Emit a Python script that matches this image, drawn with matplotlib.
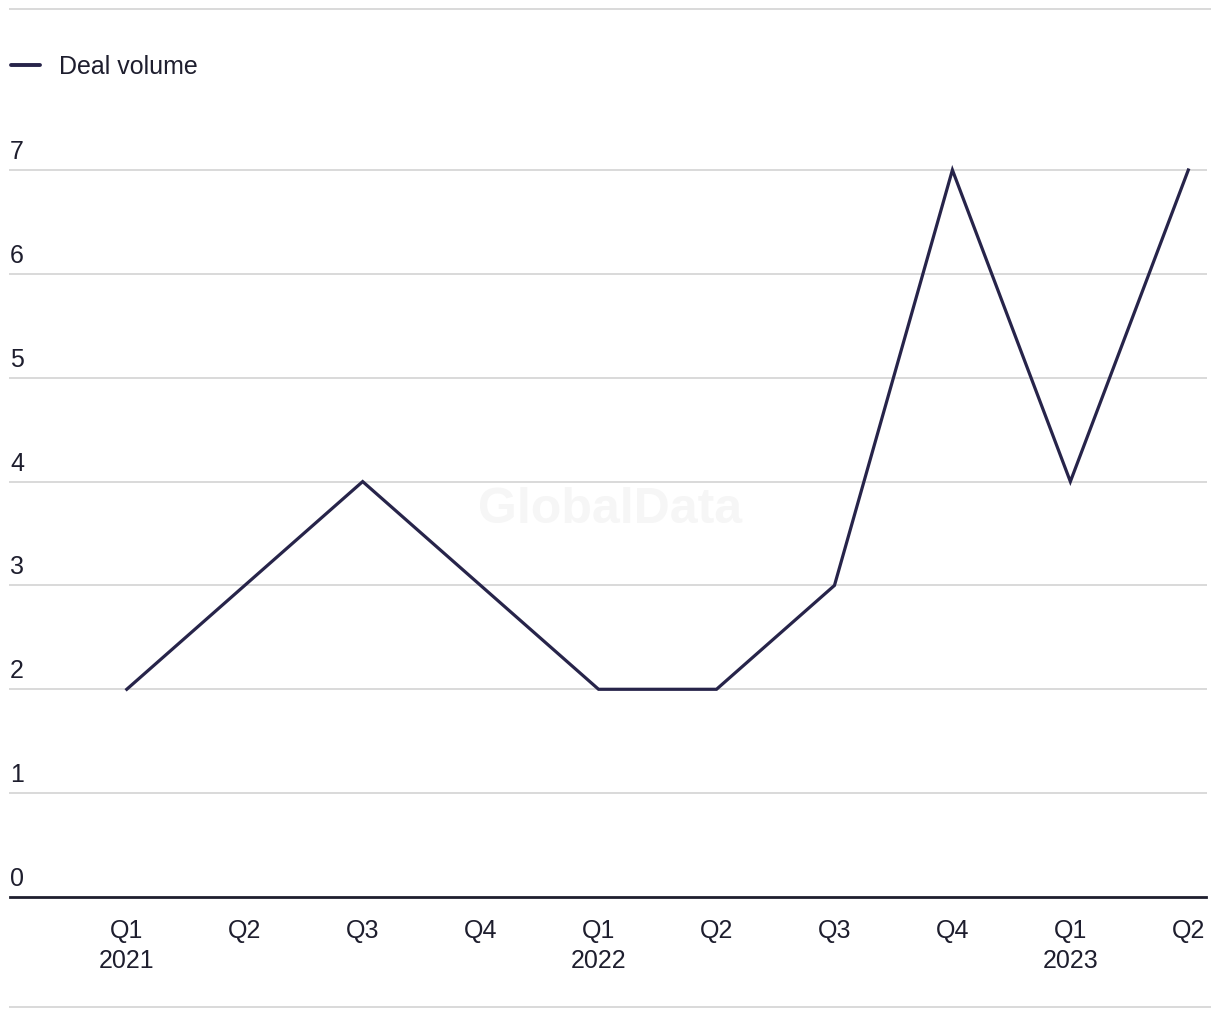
import matplotlib
matplotlib.use("Agg")
import matplotlib.pyplot as plt
from matplotlib.lines import Line2D
import matplotlib.transforms as mtransforms

quarters = ["Q1\n2021", "Q2", "Q3", "Q4", "Q1\n2022", "Q2", "Q3", "Q4", "Q1\n2023", "Q2"]
deal_volume = [2, 3, 4, 3, 2, 2, 3, 7, 4, 7]
y_ticks = [0, 1, 2, 3, 4, 5, 6, 7]

plt.rcParams["font.family"] = ["Liberation Sans", "DejaVu Sans"]
text_col = "#1e1e2e"
line_col = "#27244a"
grid_col = "#d9d9d9"

fig = plt.figure(figsize=(12.2, 10.2), dpi=100)
W, H = 1220, 1020
# axes in pixel terms: x from 10 to 1206, y=0 at 898, y=7 at 171
ax = fig.add_axes([10 / W, (H - 898) / H, (1206 - 10) / W, (898 - 171) / H])

x = list(range(len(deal_volume)))
ax.plot(x, deal_volume, color=line_col, lw=2.3, clip_on=False, zorder=3,
        solid_joinstyle="miter")

ax.set_xlim(-0.99, 9.15)
ax.set_ylim(0, 7)

for s in ["top", "right", "left"]:
    ax.spines[s].set_visible(False)
ax.spines["bottom"].set_color(text_col)
ax.spines["bottom"].set_linewidth(2.0)

# gridlines
for t in y_ticks[1:]:
    ax.axhline(t, color=grid_col, lw=1.4, zorder=1, clip_on=False)

ax.set_yticks([])
ax.set_xticks(x)
ax.set_xticklabels(quarters, fontsize=18, color=text_col, linespacing=1.35)
ax.tick_params(axis="x", length=0, pad=15)

# y labels above gridlines, left aligned
trans = mtransforms.blended_transform_factory(ax.transAxes, ax.transData)
for t in y_ticks:
    ax.annotate(str(t), xy=(0, t), xycoords=trans, xytext=(0, 7),
                textcoords="offset pixels", ha="left", va="bottom",
                fontsize=18, color=text_col)

# watermark
fig.text(610 / W, 1 - 510 / H, "GlobalData", fontsize=36, fontweight="bold",
         color="#f6f6f6", ha="center", va="center", zorder=0)

# legend
fig.add_artist(Line2D([11 / W, 40 / W], [1 - 66 / H, 1 - 66 / H],
                      color=line_col, lw=2.8, solid_capstyle="round"))
fig.text(59 / W, 1 - 67 / H, "Deal volume", fontsize=18, color=text_col,
         ha="left", va="center")

# top and bottom rules
fig.add_artist(Line2D([10 / W, 1210 / W], [1 - 10 / H, 1 - 10 / H],
                      color=grid_col, lw=1.4))
fig.add_artist(Line2D([10 / W, 1210 / W], [1 - 1008 / H, 1 - 1008 / H],
                      color=grid_col, lw=1.4))

fig.savefig("out.png", dpi=100)
